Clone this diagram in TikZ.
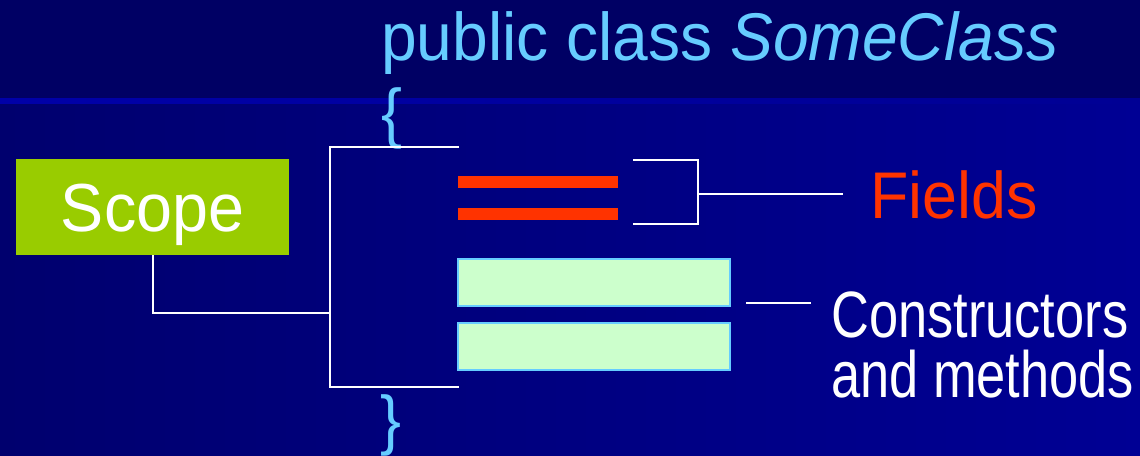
\documentclass[tikz,border=0pt]{standalone}
\usepackage{fontspec}
\setmainfont{Liberation Sans}[FakeStretch=0.95]
\newfontfamily\narrowfont{Liberation Sans}[FakeStretch=0.8]
\usepackage{tikz}
\usetikzlibrary{positioning}
\usepackage{xcolor}

\definecolor{navytop}{HTML}{000064}
\definecolor{navyleft}{HTML}{00006E}
\definecolor{navyright}{HTML}{000094}
\definecolor{stripeblue}{HTML}{0000A8}
\definecolor{skyblue}{HTML}{66CCFF}
\definecolor{scopegreen}{HTML}{99CC00}
\definecolor{fieldred}{HTML}{FF3300}
\definecolor{mint}{HTML}{CCFFCC}

\begin{document}
\begin{tikzpicture}[x=1pt, y=-1pt,
    wire/.style={white, line width=2pt},
    fieldbar/.style={fill=fieldred, inner sep=0pt, outer sep=0pt,
        minimum width=160pt, minimum height=12pt, anchor=north west},
    methodbox/.style={fill=mint, draw=skyblue, line width=2pt, inner sep=0pt,
        outer sep=0pt, minimum width=272pt, minimum height=47pt, anchor=north west}]
    \useasboundingbox (0,0) rectangle (1140,455);

    % Slide background: title band, thin stripe, shaded body
    \fill[navytop] (0,0) rectangle (1140,100);
    \shade[left color=navyleft, right color=navyright] (0,100) rectangle (1140,455);
    \shade[left color=stripeblue, right color=navyright] (0,98) rectangle (1140,103);

    % Class header and braces
    \node[anchor=base west, inner sep=0pt, text=skyblue,
        font=\fontsize{67.5}{80}\selectfont] (title) at (381,60)
        {public class \textit{SomeClass}};
    \node[inner sep=0pt, text=skyblue, font=\fontsize{66}{79}\selectfont]
        (openBrace) at (392,118) {\{};
    \node[inner sep=0pt, text=skyblue, font=\fontsize{66}{79}\selectfont]
        (closeBrace) at (391,425) {\}};

    % Scope box
    \node[fill=scopegreen, inner sep=0pt, outer sep=0pt, minimum width=273pt,
        minimum height=96pt, anchor=north west] (scope) at (16,159) {};
    \node[anchor=base, inner sep=0pt, text=white,
        font=\fontsize{68}{80}\selectfont] (scopeText) at (152.5,231) {Scope};

    % Fields and methods
    \node[fieldbar] (fieldA) at (458,176) {};
    \node[fieldbar] (fieldB) at (458,208) {};
    \node[methodbox] (methodA) at (458,259) {};
    \node[methodbox] (methodB) at (458,323) {};

    % Labels
    \node[anchor=base west, inner sep=0pt, text=fieldred,
        font=\fontsize{66}{79}\selectfont] (fieldsLabel) at (870,218) {Fields};
    \node[anchor=base west, inner sep=0pt, text=white, align=left,
        font=\narrowfont\fontsize{65.5}{60}\selectfont] (methodsLabel) at (831,397)
        {Constructors\\and methods};

    % Brackets and leader lines
    \coordinate (classTop) at (459,147);
    \coordinate (classBot) at (459,387);
    \coordinate (scopeJoin) at (330,313);
    \draw[wire] (scope.south) |- (scopeJoin);
    \draw[wire] (classTop) -| (scopeJoin) |- (classBot);

    \coordinate (fieldsTop) at (633,160);
    \coordinate (fieldsBot) at (633,224);
    \coordinate (fieldsJoin) at (698,194);
    \coordinate (fieldsTip) at (843,194);
    \draw[wire] (fieldsTop) -| (fieldsJoin) |- (fieldsBot);
    \draw[wire] (fieldsJoin) -- (fieldsTip);

    \coordinate (methodsTail) at (746,303);
    \coordinate (methodsTip) at (811,303);
    \draw[wire, line width=1.5pt] (methodsTail) -- (methodsTip);
\end{tikzpicture}
\end{document}
